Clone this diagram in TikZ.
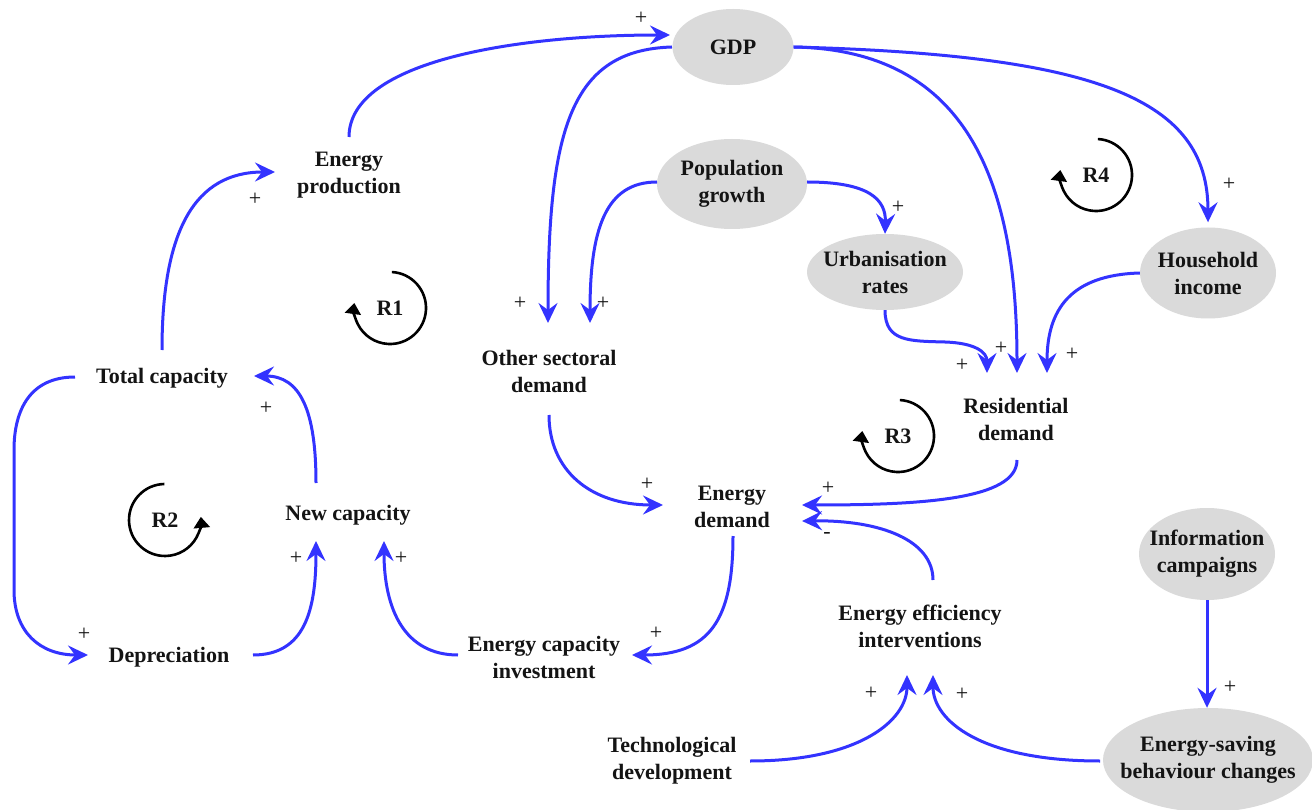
\documentclass[tikz,border=0pt]{standalone}
\usepackage{fontspec}
\setmainfont{Liberation Serif}
\usetikzlibrary{arrows.meta,shapes.geometric,calc}
\definecolor{flowblue}{RGB}{51,51,255}
\definecolor{ellgray}{RGB}{218,218,218}
\definecolor{txtcol}{RGB}{20,20,20}
\begin{document}
\begin{tikzpicture}[x=1pt,y=-1pt,
  lbl/.style={font=\fontsize{22pt}{27pt}\selectfont\bfseries, text=txtcol, align=center, inner sep=0pt},
  ell/.style={lbl, ellipse, fill=ellgray, inner xsep=-16pt, inner ysep=0pt},
  flow/.style={draw=flowblue, line width=3pt, -{Stealth[length=20pt,width=19pt,inset=7pt]}},
  pol/.style={font=\fontsize{22pt}{22pt}\selectfont, text=txtcol, inner sep=0pt},
  loopar/.style={draw=black, line width=2.6pt, -{Triangle[length=11pt,width=16pt]}}
]
\useasboundingbox (0,0) rectangle (1312,810);
\fill[white] (0,0) rectangle (1312,810);

% nodes
\node[ell, minimum width=121pt, minimum height=76pt] (gdp) at (733,47) {GDP};
\node[ell, minimum width=150pt, minimum height=90pt] (pop) at (732,184) {Population\\growth};
\node[ell, minimum width=156pt, minimum height=76pt] (urb) at (885,272) {Urbanisation\\rates};
\node[ell, minimum width=136pt, minimum height=91pt] (hh) at (1208,273) {Household\\income};
\node[ell, minimum width=136pt, minimum height=92pt] (info) at (1207,554) {Information\\campaigns};
\node[ell, minimum width=210pt, minimum height=104pt] (esb) at (1208,760) {Energy-saving\\behaviour changes};

\node[lbl] (ep) at (349,175) {Energy\\production};
\node[lbl] (osd) at (549,371) {Other sectoral\\demand};
\node[lbl] (res) at (1016,419) {Residential\\demand};
\node[lbl] (tc) at (162,378) {Total capacity};
\node[lbl] (nc) at (348,515) {New capacity};
\node[lbl] (dep) at (169,657) {Depreciation};
\node[lbl] (ed) at (732,507) {Energy\\demand};
\node[lbl] (eci) at (544,657) {Energy capacity\\investment};
\node[lbl] (eei) at (920,626) {Energy efficiency\\interventions};
\node[lbl] (tech) at (672,761) {Technological\\development};

% loop markers
\node[lbl] (r1) at (390,308) {R1};
\node[lbl] (r2) at (165,520) {R2};
\node[lbl] (r3) at (898,436) {R3};
\node[lbl] (r4) at (1096,175) {R4};
\draw[loopar] ($(r1)+(87:36pt)$) arc[start angle=87, end angle=-188, radius=36pt];
\draw[loopar] ($(r2)+(91:36pt)$) arc[start angle=91, end angle=365, radius=36pt];
\draw[loopar] ($(r3)+(87:36pt)$) arc[start angle=87, end angle=-188, radius=36pt];
\draw[loopar] ($(r4)+(87:36pt)$) arc[start angle=87, end angle=-188, radius=36pt];

% connectors
\draw[flow] ($(ep)+(0,-38)$) .. controls (349,60) and (520,35) .. ($(gdp)+(-63,-12)$);
\draw[flow] ($(tc)+(0,-28)$) .. controls (162,230) and (195,172) .. ($(ep)+(-74,-3)$);
\draw[flow] ($(tc)+(-87,-1)$) .. controls (30,377) and (14,410) .. (14,450) -- (14,590) .. controls (14,632) and (40,655) .. ($(dep)+(-81,-2)$);
\draw[flow] ($(dep)+(84,-2)$) .. controls (305,655) and (316,610) .. ($(nc)+(-32,26)$);
\draw[flow] ($(nc)+(-32,-32)$) .. controls (316,410) and (300,376) .. ($(tc)+(92,-2)$);
\draw[flow] ($(eci)+(-86,-2)$) .. controls (405,655) and (384,610) .. ($(nc)+(36,26)$);
\draw[flow] ($(ed)+(1,29)$) .. controls (733,620) and (710,655) .. ($(eci)+(88,-2)$);
\draw[flow] ($(osd)+(0,44)$) .. controls (549,470) and (590,505) .. ($(ed)+(-69,-2)$);
\draw[flow] ($(res)+(1,41)$) .. controls (1017,500) and (920,505) .. ($(ed)+(70,-2)$);
\draw[flow] ($(eei)+(13,-46)$) .. controls (933,540) and (880,520) .. ($(ed)+(70,14)$);
\draw[flow] ($(tech)+(78,0)$) .. controls (860,761) and (907,720) .. ($(eei)+(-13,49)$);
\draw[flow] ($(esb)+(-108,1)$) .. controls (980,761) and (933,720) .. ($(eei)+(13,49)$);
\draw[flow] (info.south) -- (info.south |- esb.north);
\draw[flow] ($(gdp)+(-61,0)$) .. controls (570,50) and (548,130) .. ($(osd)+(-1,-48)$);
\draw[flow] ($(pop)+(-75,-2)$) .. controls (605,182) and (590,230) .. ($(osd)+(41,-48)$);
\draw[flow] ($(pop)+(75,-2)$) .. controls (870,182) and (886,200) .. (urb.north);
\draw[flow] (urb.south) .. controls (885,342) and (910,341) .. (945,342) .. controls (975,343) and (987,352) .. ($(res)+(-29,-46)$);
\draw[flow] (gdp.east) .. controls (960,50) and (1017,170) .. ($(res)+(1,-46)$);
\draw[flow] (gdp.east) .. controls (1100,55) and (1208,100) .. ($(hh.north)+(0,-5)$);
\draw[flow] (hh.west) .. controls (1070,275) and (1047,310) .. ($(res)+(31,-46)$);

% polarities
\node[pol] (p1) at (641,18) {+};
\node[pol] (p2) at (255,199) {+};
\node[pol] (p3) at (84,634) {+};
\node[pol] (p4) at (266,408) {+};
\node[pol] (p5) at (296,558) {+};
\node[pol] (p6) at (401,558) {+};
\node[pol] (p7) at (656,633) {+};
\node[pol] (p8) at (647,484) {+};
\node[pol] (p9) at (828,488) {+};
\node[pol] (p10) at (827,535) {-};
\node[pol] (p11) at (871,693) {+};
\node[pol] (p12) at (962,694) {+};
\node[pol] (p13) at (1230,687) {+};
\node[pol] (p14) at (520,303) {+};
\node[pol] (p15) at (603,303) {+};
\node[pol] (p16) at (898,207) {+};
\node[pol] (p17) at (962,365) {+};
\node[pol] (p18) at (1001,348) {+};
\node[pol] (p19) at (1072,354) {+};
\node[pol] (p20) at (1229,184) {+};
\end{tikzpicture}
\end{document}
